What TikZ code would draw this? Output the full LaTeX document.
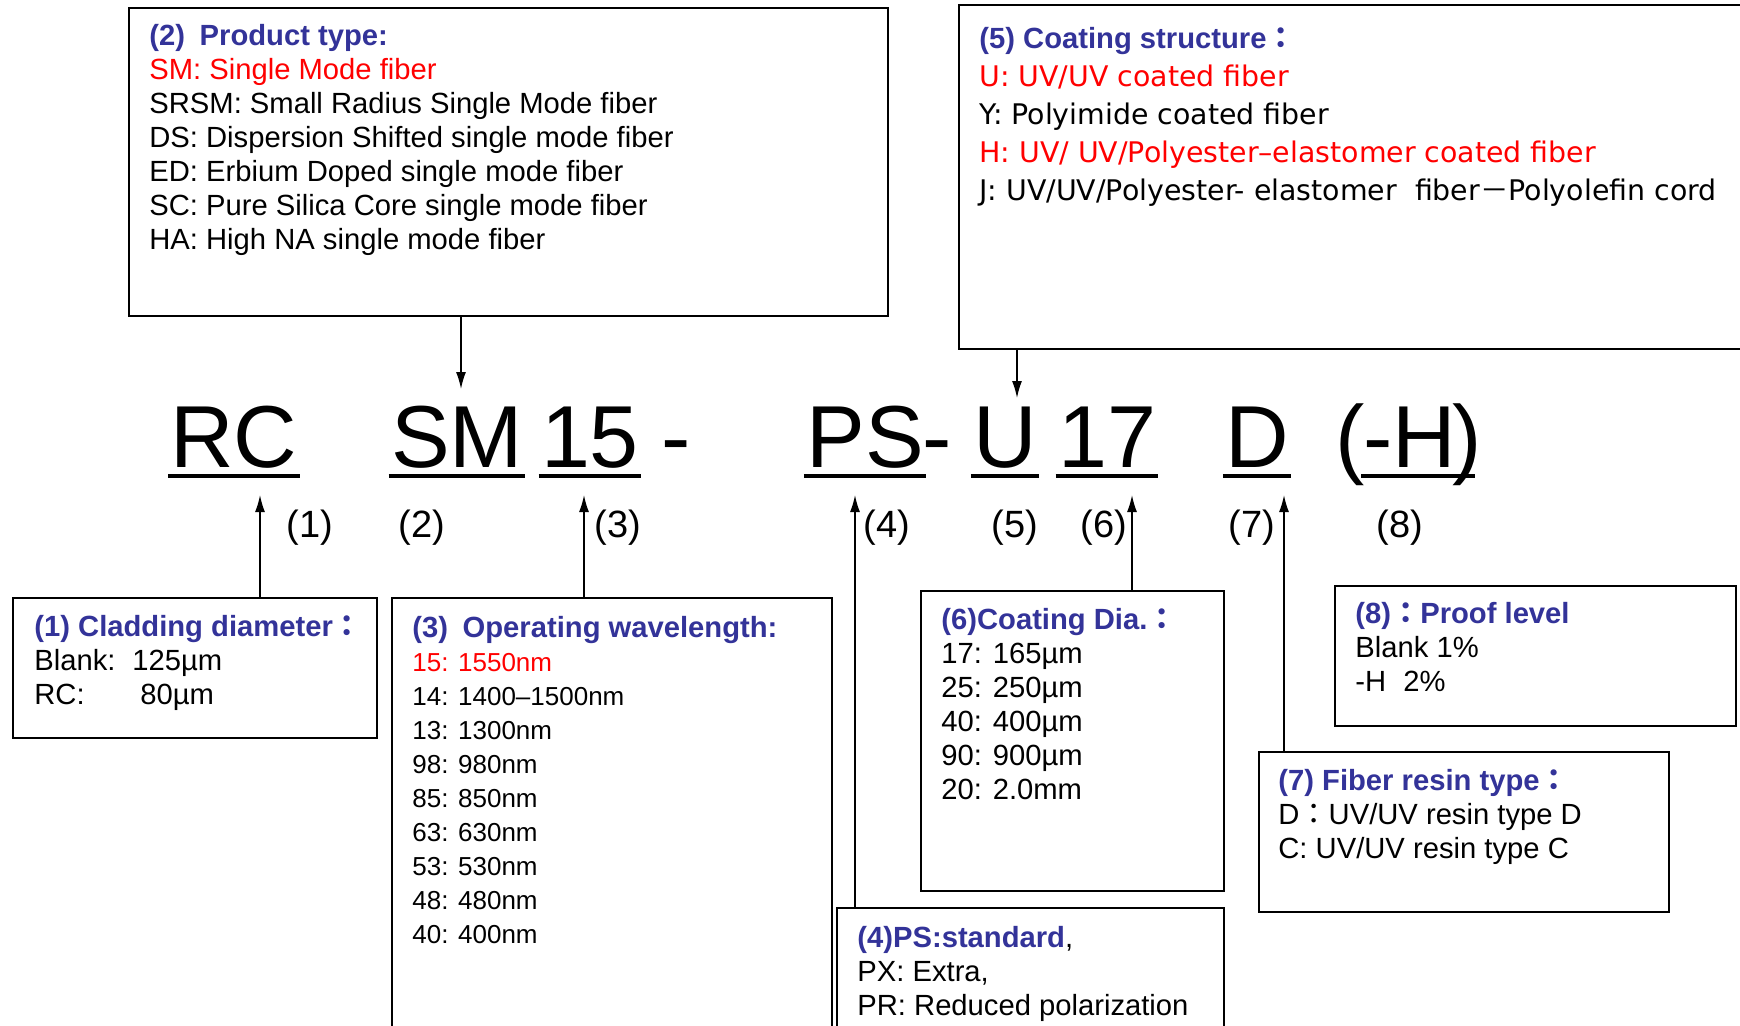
\documentclass[tikz,border=0pt]{standalone}
\usepackage{fontspec}
\setmainfont{Liberation Sans}
\newfontfamily\cjk{Noto Sans CJK JP}
\newfontfamily\widesans{DejaVu Sans}
\usetikzlibrary{arrows.meta}
\definecolor{hdrblue}{RGB}{51,51,153}
\definecolor{hotred}{RGB}{255,0,0}
\newcommand{\fwc}{{\cjk ：}}

\begin{document}
\begin{tikzpicture}[x=0.5pt,y=-0.5pt,
  infobox/.style={draw, line width=1pt, fill=white, anchor=north west, inner sep=0pt},
  boxtext/.style={anchor=base west, align=left, inner sep=0pt, font=\fontsize{14.6}{17}\selectfont},
  codepart/.style={anchor=base, inner sep=1pt, font=\fontsize{44}{44}\selectfont},
  partnum/.style={anchor=base, inner sep=0pt, font=\fontsize{19}{22}\selectfont},
  uline/.style={line width=2pt},
  pointer/.style={line width=0.75pt, -{Latex[length=8.5pt,width=5pt]}}]
  \useasboundingbox (0,0) rectangle (1740,1025);
  \clip (0,0) rectangle (1740,1025);
  % boxes
  \node[infobox, minimum width=379.5pt, minimum height=154pt] (b2) at (128,7) {};
  \node[infobox, minimum width=401pt, minimum height=172pt] (b5) at (958,4) {};
  \node[infobox, minimum width=182pt, minimum height=70pt] (b1) at (12,597) {};
  \node[infobox, minimum width=220pt, minimum height=224pt] (b3) at (391,597) {};
  \node[infobox, minimum width=151.5pt, minimum height=150pt] (b6) at (920,590) {};
  \node[infobox, minimum width=193.5pt, minimum height=69pt] (b4) at (836,907) {};
  \node[infobox, minimum width=200.5pt, minimum height=70pt] (b8) at (1334,585) {};
  \node[infobox, minimum width=205pt, minimum height=80pt] (b7) at (1258,751) {};
  % box texts (anchored on the last line)
  \node[boxtext] (t2) at ([shift={(21,242)}]b2.north west) {%
    \textcolor{hdrblue}{\bfseries (2)\enspace Product type:}\\
    \textcolor{hotred}{SM: Single Mode fiber}\\
    SRSM: Small Radius Single Mode fiber\\
    DS: Dispersion Shifted single mode fiber\\
    ED: Erbium Doped single mode fiber\\
    SC: Pure Silica Core single mode fiber\\
    HA: High NA single mode fiber};
  \node[boxtext, font=\widesans\fontsize{14.2}{19}\selectfont] (t5) at ([shift={(21,196)}]b5.north west) {%
    \textcolor{hdrblue}{\rmfamily\bfseries\fontsize{14.6}{19}\selectfont (5) Coating structure\fwc}\\
    \textcolor{hotred}{U: UV/UV coated fiber}\\
    Y: Polyimide coated fiber\\
    \textcolor{hotred}{H: UV/ UV/Polyester–elastomer coated fiber}\\
    J: UV/UV/Polyester- elastomer\ \ fiber{\cjk －}Polyolefin cord};
  \node[boxtext] (t1) at ([shift={(22,107)}]b1.north west) {%
    \textcolor{hdrblue}{\bfseries (1) Cladding diameter\fwc}\\
    \makebox[49pt][l]{Blank:}125µm\\
    \makebox[53pt][l]{RC:}80µm};
  \node[boxtext, font=\fontsize{13}{17}\selectfont] (t3) at ([shift={(21,346)}]b3.north west) {%
    \textcolor{hdrblue}{\bfseries\fontsize{14.6}{17}\selectfont (3)\enspace Operating wavelength:}\\
    \textcolor{hotred}{15: 1550nm}\\
    14: 1400--1500nm\\
    13: 1300nm\\
    98: 980nm\\
    85: 850nm\\
    63: 630nm\\
    53: 530nm\\
    48: 480nm\\
    40: 400nm};
  \node[boxtext] (t6) at ([shift={(21,209)}]b6.north west) {%
    \textcolor{hdrblue}{\bfseries (6)Coating Dia.\fwc}\\
    17: 165µm\\
    25: 250µm\\
    40: 400µm\\
    90: 900µm\\
    20: 2.0mm};
  \node[boxtext] (t4) at ([shift={(21,108)}]b4.north west) {%
    \textcolor{hdrblue}{\bfseries (4)PS:standard},\\
    PX: Extra,\\
    PR: Reduced polarization};
  \node[boxtext] (t8) at ([shift={(21,106)}]b8.north west) {%
    \textcolor{hdrblue}{\bfseries (8)\fwc Proof level}\\
    Blank 1\%\\
    \makebox[24pt][l]{-H}2\%};
  \node[boxtext] (t7) at ([shift={(20,107)}]b7.north west) {%
    \textcolor{hdrblue}{\bfseries (7) Fiber resin type\fwc}\\
    D\fwc UV/UV resin type D\\
    C: UV/UV resin type C};
  % product code
  \node[codepart] (rc) at (234,467) {RC};
  \node[codepart] (sm) at (457,467) {SM};
  \node[codepart] (wl) at (590,467) {15};
  \node[codepart] (dash1) at (676,467) {-};
  \node[codepart] (ps) at (865,467) {PS};
  \node[codepart] (dash2) at (937,467) {-};
  \node[codepart] (u) at (1005,467) {U};
  \node[codepart] (dia) at (1107,467) {17};
  \node[codepart] (d) at (1257,467) {D};
  \node[codepart] (lp) at (1350,467) {(};
  \node[codepart] (h) at (1410,467) {-H};
  \node[codepart] (rp) at (1467,467) {)};
  \foreach \p in {rc,sm,wl,ps,u,dia,d}
    \draw[uline] ([yshift=-4.5pt]\p.base west) -- ([yshift=-4.5pt]\p.base east);
  \draw[uline] ([yshift=-4.5pt]h.base west) -- ([yshift=-4.5pt,xshift=4pt]rp.base);
  % part numbers
  \node[partnum] (n1) at (310,537) {(1)};
  \node[partnum] (n2) at (422,537) {(2)};
  \node[partnum] (n3) at (618,537) {(3)};
  \node[partnum] (n4) at (887,537) {(4)};
  \node[partnum] (n5) at (1015,537) {(5)};
  \node[partnum] (n6) at (1104,537) {(6)};
  \node[partnum] (n7) at (1252,537) {(7)};
  \node[partnum] (n8) at (1400,537) {(8)};
  % arrows
  \coordinate (dn2) at (461,389);
  \coordinate (dn5) at (1017,398);
  \coordinate (up1) at (260,495);
  \coordinate (up3) at (584,495);
  \coordinate (up4) at (855,495);
  \coordinate (up6) at (1132,495);
  \coordinate (up7) at (1284,495);
  \draw[pointer] (b2.south -| dn2) -- (dn2);
  \draw[pointer] (b5.south -| dn5) -- (dn5);
  \draw[pointer] (b1.north -| up1) -- (up1);
  \draw[pointer] (b3.north -| up3) -- (up3);
  \draw[pointer] (b4.north -| up4) -- (up4);
  \draw[pointer] (b6.north -| up6) -- (up6);
  \draw[pointer] (b7.north -| up7) -- (up7);
\end{tikzpicture}
\end{document}
